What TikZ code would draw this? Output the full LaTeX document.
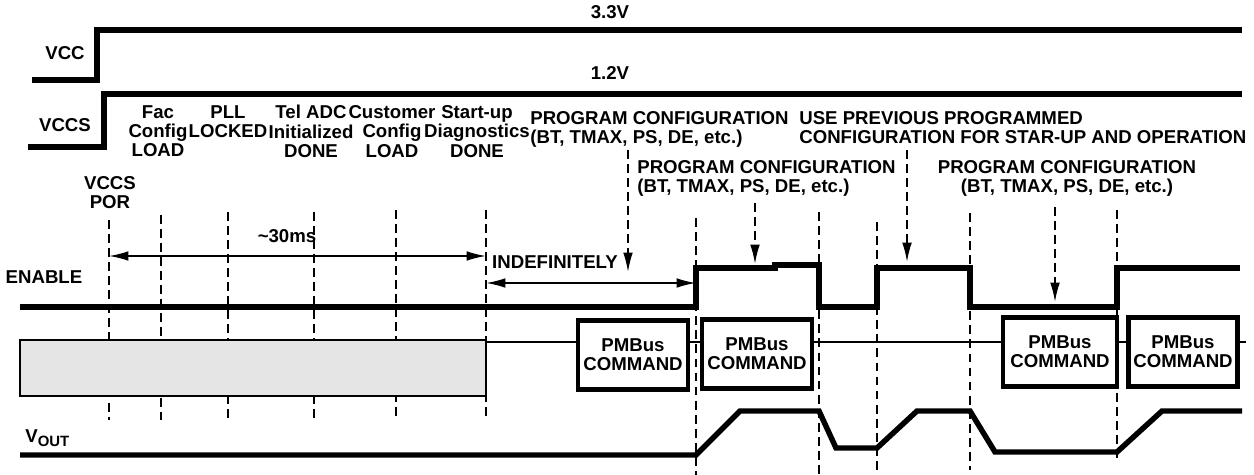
\documentclass[tikz,border=0pt]{standalone}
\usepackage{fontspec}
\setmainfont{Liberation Sans}
\usetikzlibrary{arrows.meta,positioning}

\tikzset{
  signal/.style={line width=3.1pt},
  bus/.style={line width=1.5pt},
  tirets/.style={line width=1pt,dash pattern=on 5pt off 3pt},
  fleche/.style={line width=1pt,-{Latex[length=11pt,width=5.5pt]}},
  double fleche/.style={line width=1pt,{Latex[length=11pt,width=5.5pt]}-{Latex[length=11pt,width=5.5pt]}},
  texte/.style={font=\bfseries\fontsize{10.6}{11}\selectfont,inner sep=0pt,align=center},
  commande/.style={draw,line width=2.8pt,fill=white,texte,minimum height=1.38cm}
}

\begin{document}
\begin{tikzpicture}[x=0.02cm,y=-0.02cm]
\useasboundingbox (0,0) rectangle (1254,475);

% Alimentations VCC et VCCS
\draw[signal] (32,80) -- (97,80) -- (97,30) -- (1242,30);
\draw[signal] (28,147) -- (104,147) -- (104,94) -- (1242,94);
\node[texte] (vcc) at (65,53) {VCC};
\node[texte] (vccs) at (65,125) {VCCS};
\node[texte] (trois) at (610,12) {3.3V};
\node[texte] (un) at (610,73) {1.2V};

% Etapes du demarrage
\node[texte,anchor=north] (fac) at (158,105) {Fac\\Config\\LOAD};
\node[texte,anchor=north] (pll) at (228,105) {PLL\\LOCKED};
\node[texte,anchor=north] (tel) at (311,105) {Tel ADC\\Initialized\\DONE};
\node[texte,anchor=north] (cust) at (392,105) {Customer\\Config\\LOAD};
\node[texte,anchor=north] (start) at (477,105) {Start-up\\Diagnostics\\DONE};
\node[texte,anchor=north] (por) at (110,176) {VCCS\\POR};

% Textes de configuration
\node[texte,anchor=north west,align=left] (prog1) at (530,111) {PROGRAM CONFIGURATION\\(BT, TMAX, PS, DE, etc.)};
\node[texte,anchor=north west,align=left] (prev) at (799,111) {USE PREVIOUS PROGRAMMED\\CONFIGURATION FOR STAR-UP AND OPERATION};
\node[texte,anchor=north west,align=left] (prog2) at (637,160) {PROGRAM CONFIGURATION\\(BT, TMAX, PS, DE, etc.)};
\node[texte,anchor=north] (prog3) at (1067,160) {PROGRAM CONFIGURATION\\(BT, TMAX, PS, DE, etc.)};

% Lignes verticales en tirets
\foreach \x/\a/\b in {109/220/420, 161/215/420, 228/212/420, 314/212/420, 396/210/420,
                     486/210/420, 696/218/475, 819/212/475, 877/222/475, 970/213/470, 1117/210/462}
  \draw[tirets] (\x,\a) -- (\x,\b);

% Fleches vers ENABLE
\coordinate (h1) at (628,150);
\coordinate (e1) at (628,272);
\coordinate (h2) at (755,203);
\coordinate (e2) at (755,264);
\coordinate (h3) at (907,150);
\coordinate (e3) at (907,262);
\coordinate (h4) at (1055,207);
\coordinate (e4) at (1055,302);
\draw[fleche,tirets] (h1) -- (e1);
\draw[fleche,tirets] (h2) -- (e2);
\draw[fleche,tirets] (h3) -- (e3);
\draw[fleche,tirets] (h4) -- (e4);

% Durees
\coordinate (t0) at (109,256);
\coordinate (t1) at (486,256);
\coordinate (t2) at (486,283);
\coordinate (t3) at (696,283);
\draw[double fleche] (t0) -- (t1);
\draw[double fleche] (t2) -- (t3);
\node[texte] (duree) at (287,236) {\textasciitilde30ms};
\node[texte] (indef) at (555,262) {INDEFINITELY};

% Signal ENABLE
\node[texte] (enable) at (44,277) {ENABLE};
\draw[signal] (20,307) -- (696,307) -- (696,268) -- (775,268) -- (775,265) -- (819,265) -- (819,307)
  -- (877,307) -- (877,268) -- (970,268) -- (970,307) -- (1117,307) -- (1117,268) -- (1240,268);

% Bus PMBus
\draw[fill=gray!20,line width=1.1pt] (20,340) rectangle (486,396);
\draw[bus] (486,342) -- (1246,342);
\node[commande,minimum width=2.2cm] (cmd1) at (633,355) {PMBus\\COMMAND};
\node[commande,minimum width=2.2cm] (cmd2) at (757,354) {PMBus\\COMMAND};
\node[commande,minimum width=2.28cm] (cmd3) at (1060,352) {PMBus\\COMMAND};
\node[commande,minimum width=2.18cm] (cmd4) at (1183,352) {PMBus\\COMMAND};

% Signal VOUT
\node[texte,anchor=base west] (vout) at (25,443) {V\raisebox{-0.35ex}{\fontsize{8.5}{9}\selectfont OUT}};
\draw[signal] (20,455) -- (696,455) -- (740,411) -- (819,411) -- (836,448) -- (877,448) -- (917,411)
  -- (970,411) -- (995,452) -- (1117,452) -- (1162,411) -- (1242,411);
\end{tikzpicture}
\end{document}
